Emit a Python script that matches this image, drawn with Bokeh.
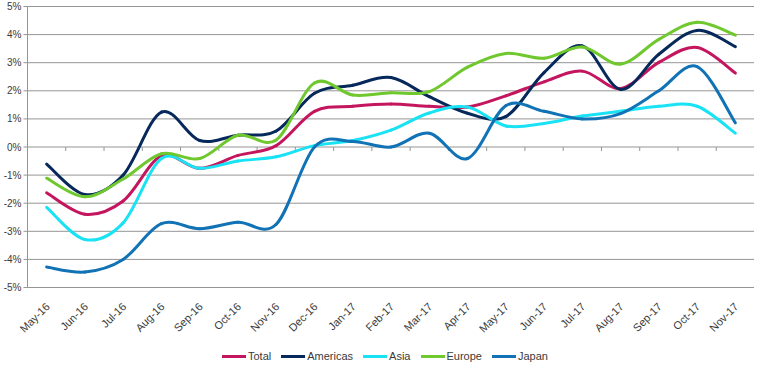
import numpy as np
from math import pi
from bokeh.plotting import figure
from bokeh.models import Range1d, Legend, LegendItem, ColumnDataSource
from bokeh.core.properties import value
from bokeh.embed import file_html
from bokeh.resources import INLINE

months = ["May-16", "Jun-16", "Jul-16", "Aug-16", "Sep-16", "Oct-16", "Nov-16",
          "Dec-16", "Jan-17", "Feb-17", "Mar-17", "Apr-17", "May-17", "Jun-17",
          "Jul-17", "Aug-17", "Sep-17", "Oct-17", "Nov-17"]

total    = [-1.63, -2.39, -1.92, -0.32, -0.76, -0.30, 0.05, 1.27, 1.45, 1.53,
            1.45, 1.42, 1.82, 2.32, 2.70, 2.08, 3.01, 3.54, 2.63]
americas = [-0.61, -1.69, -1.00, 1.24, 0.23, 0.42, 0.57, 1.91, 2.20, 2.47,
            1.79, 1.20, 1.08, 2.65, 3.60, 2.05, 3.30, 4.15, 3.57]
asia     = [-2.15, -3.29, -2.70, -0.41, -0.76, -0.50, -0.35, 0.05, 0.23, 0.60,
            1.21, 1.42, 0.75, 0.84, 1.10, 1.27, 1.45, 1.45, 0.49]
europe   = [-1.11, -1.77, -1.14, -0.24, -0.41, 0.42, 0.25, 2.28, 1.85, 1.93,
            1.97, 2.84, 3.33, 3.16, 3.56, 2.95, 3.83, 4.44, 3.98]
japan    = [-4.27, -4.45, -4.00, -2.73, -2.91, -2.68, -2.75, 0.00, 0.20, 0.00,
            0.49, -0.41, 1.47, 1.27, 1.00, 1.19, 2.00, 2.86, 0.86]

series_names = ["Total", "Americas", "Asia", "Europe", "Japan"]
series_vals = [total, americas, asia, europe, japan]
series_colors = ["#C4165E", "#06285A", "#19E2F4", "#6FC82E", "#1173B6"]

y_ticks = [-5, -4, -3, -2, -1, 0, 1, 2, 3, 4, 5]
y_tick_labels = ["-5%", "-4%", "-3%", "-2%", "-1%", "0%", "1%", "2%", "3%",
                 "4%", "5%"]

FONT = "Liberation Sans"
TEXT = "#3a3a3a"
GRID = "#959595"

# ---- geometry (pixels) ----
W, H = 754, 363
LEFT_PX = 27          # room for the percentage labels left of the axis line
TOP_PX = 6            # room above the 5% line
PLOT_H_PX = 281       # distance between -5% and 5%
n_cat = len(months)
x_unit = (W - LEFT_PX) / n_cat
y_unit = PLOT_H_PX / (y_ticks[-1] - y_ticks[0])
x_lo = -LEFT_PX / x_unit
y_hi = y_ticks[-1] + TOP_PX / y_unit
y_lo = y_hi - H / y_unit

p = figure(x_range=Range1d(x_lo, n_cat), y_range=Range1d(y_lo, y_hi),
           frame_width=W, frame_height=H,
           x_axis_location=None, y_axis_location=None,
           output_backend="svg", toolbar_location=None,
           min_border=0, background_fill_color="white",
           border_fill_color="white")
p.outline_line_color = None
p.grid.visible = False

cat_x = np.arange(n_cat) + 0.5      # category centres
bounds = np.arange(1, n_cat + 1)    # category boundaries
yt = np.array(y_ticks, dtype=float)

# horizontal grid lines, axis line, axis ticks
p.segment(x0=np.zeros(len(yt)), y0=yt, x1=np.full(len(yt), n_cat), y1=yt,
          line_color=GRID, line_width=1)
p.segment(x0=[0], y0=[y_ticks[0]], x1=[0], y1=[y_ticks[-1]],
          line_color=GRID, line_width=1)
p.segment(x0=np.zeros(len(yt)), y0=yt, x1=np.full(len(yt), -4 / x_unit),
          y1=yt, line_color=GRID, line_width=1)
# small tick marks on the 0% line at category boundaries
p.segment(x0=bounds, y0=np.zeros(len(bounds)), x1=bounds,
          y1=np.full(len(bounds), -4 / y_unit), line_color=GRID, line_width=1)

# y tick labels
p.text(x=np.zeros(len(yt)), y=yt, text=y_tick_labels, x_offset=-6,
       text_align="right", text_baseline="middle", text_font=value(FONT),
       text_font_size="10px", text_color=TEXT)


def smooth_source(vals):
    y = np.asarray(vals, dtype=float)
    n = len(y)
    x = cat_x
    xp = np.concatenate([[x[0]], x, [x[-1]]])
    yp = np.concatenate([[y[0]], y, [y[-1]]])
    t = 1.0 / 6.0
    return ColumnDataSource(dict(
        x0=x[:-1], y0=y[:-1], x1=x[1:], y1=y[1:],
        cx0=x[:-1] + (xp[2:n + 1] - xp[0:n - 1]) * t,
        cy0=y[:-1] + (yp[2:n + 1] - yp[0:n - 1]) * t,
        cx1=x[1:] - (xp[3:n + 2] - xp[1:n]) * t,
        cy1=y[1:] - (yp[3:n + 2] - yp[1:n]) * t,
    ))


items = []
for name, vals, col in zip(series_names, series_vals, series_colors):
    r = p.bezier(x0="x0", y0="y0", x1="x1", y1="y1", cx0="cx0", cy0="cy0",
                 cx1="cx1", cy1="cy1", source=smooth_source(vals),
                 line_color=col, line_width=3, line_cap="round")
    items.append(LegendItem(label=name, renderers=[r]))

# rotated month labels below the -5% line
p.text(x=cat_x, y=np.full(n_cat, y_ticks[0]), text=months, angle=pi / 4,
       text_align="right", text_baseline="middle", x_offset=1, y_offset=17,
       text_font=value(FONT), text_font_size="11px", text_color=TEXT)

legend = Legend(items=items, orientation="horizontal", location=(222, 0),
                label_text_font=FONT, label_text_font_size="11px",
                label_text_color=TEXT, glyph_width=24, glyph_height=12,
                label_height=14, label_standoff=2, spacing=10, padding=1,
                margin=0, border_line_color=None, background_fill_alpha=0)
p.add_layout(legend, "center")

open("out.html", "w").write(file_html(p, INLINE))
